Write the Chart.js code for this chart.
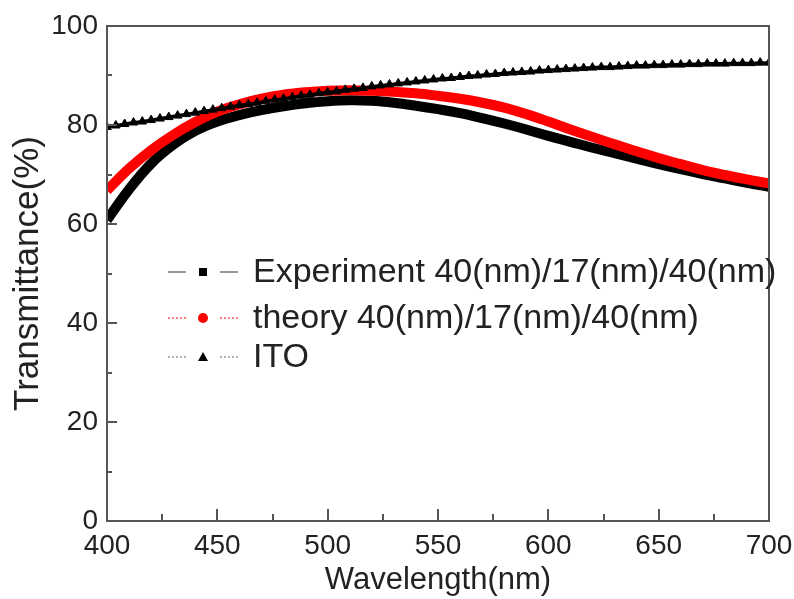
<!DOCTYPE html>
<html>
<head>
<meta charset="utf-8">
<script src="https://cdn.jsdelivr.net/npm/chart.js@4"></script>
<style>
  body { margin: 0; background: #fff; }
  canvas { display: block; }
</style>
</head>
<body>
<canvas id="myChart" width="794" height="599"></canvas>
<script>
// wavelengths (nm) for the two multilayer curves
const wavelength = [400, 410, 420, 430, 440, 450, 460, 470, 480, 490, 500, 510, 520, 530, 540, 550,
  560, 570, 580, 590, 600, 610, 620, 630, 640, 650, 660, 670, 680, 690, 700]

// measured transmittance (%)
const experiment = [60.8, 67.0, 72.2, 76.0, 78.8, 80.7, 82.0, 83.0, 83.8, 84.4, 84.8, 85.0, 84.9, 84.5, 83.9, 83.2,
  82.4, 81.4, 80.3, 79.1, 77.8, 76.6, 75.4, 74.3, 73.2, 72.1, 71.1, 70.1, 69.2, 68.3, 67.5]

// simulated transmittance (%)
const theory = [66.8, 71.2, 74.9, 78.0, 80.6, 82.7, 84.2, 85.3, 86.1, 86.6, 86.9, 87.0, 86.9, 86.7, 86.4, 85.9,
  85.3, 84.5, 83.5, 82.2, 80.7, 79.1, 77.6, 76.1, 74.7, 73.3, 72.1, 70.9, 69.9, 69.0, 68.2]

// ITO reference, sampled every 4 nm
const itoWavelength = [400, 404, 408, 412, 416, 420, 424, 428, 432, 436, 440, 444, 448, 452, 456, 460, 464, 468, 472,
  476, 480, 484, 488, 492, 496, 500, 504, 508, 512, 516, 520, 524, 528, 532, 536, 540, 544, 548, 552, 556, 560,
  564, 568, 572, 576, 580, 584, 588, 592, 596, 600, 604, 608, 612, 616, 620, 624, 628, 632, 636, 640, 644, 648,
  652, 656, 660, 664, 668, 672, 676, 680, 684, 688, 692, 696, 700]
const ito = [79.6, 79.9, 80.2, 80.5, 80.7, 81.0, 81.3, 81.6, 81.9, 82.2, 82.5, 82.8, 83.1, 83.4, 83.7, 84.0, 84.2, 84.5, 84.8,
  85.1, 85.3, 85.6, 85.9, 86.1, 86.4, 86.6, 86.8, 87.1, 87.3, 87.5, 87.8, 88.0, 88.2, 88.4, 88.6, 88.8, 89.0,
  89.2, 89.4, 89.5, 89.7, 89.9, 90.0, 90.2, 90.3, 90.5, 90.6, 90.7, 90.8, 91.0, 91.1, 91.2, 91.3, 91.4, 91.5,
  91.6, 91.7, 91.7, 91.8, 91.9, 92.0, 92.0, 92.1, 92.1, 92.2, 92.2, 92.3, 92.3, 92.4, 92.4, 92.4, 92.5, 92.5,
  92.5, 92.6, 92.6]

const seriesNames = ['Experiment 40(nm)/17(nm)/40(nm)', 'theory 40(nm)/17(nm)/40(nm)', 'ITO']

const FONT = '"Liberation Sans", Arial, sans-serif'
const TEXT = '#222'

function toPoints(xs, ys) {
  return xs.map((x, i) => ({ x: x, y: ys[i] }))
}

// frame + inward ticks (major and minor)
const frameTicks = {
  id: 'frameTicks',
  afterDraw(chart) {
    const ctx = chart.ctx
    const a = chart.chartArea
    const xs = chart.scales.x
    const ys = chart.scales.y
    ctx.save()
    ctx.strokeStyle = '#555'
    ctx.lineWidth = 2
    ctx.strokeRect(a.left, a.top, a.right - a.left, a.bottom - a.top)
    ctx.beginPath()
    for (let v = 400; v <= 700; v += 25) {
      const px = Math.round(xs.getPixelForValue(v))
      const len = v % 50 === 0 ? 12 : 7
      ctx.moveTo(px, a.bottom)
      ctx.lineTo(px, a.bottom - len)
    }
    for (let v = 0; v <= 100; v += 10) {
      const py = Math.round(ys.getPixelForValue(v))
      const len = v % 20 === 0 ? 10 : 5
      ctx.moveTo(a.left, py)
      ctx.lineTo(a.left + len, py)
    }
    ctx.stroke()
    ctx.restore()
  }
}

// legend inside the plot: line - marker - line, then the label
const insideLegend = {
  id: 'insideLegend',
  afterDraw(chart) {
    const ctx = chart.ctx
    const rows = [
      { y: 272, line: '#777', dash: [], marker: 'square', color: '#000' },
      { y: 318, line: '#f55', dash: [2, 2], marker: 'circle', color: '#f00' },
      { y: 357, line: '#999', dash: [2, 2], marker: 'triangle', color: '#000' }
    ]
    ctx.save()
    rows.forEach((r, i) => {
      ctx.strokeStyle = r.line
      ctx.lineWidth = 1.5
      ctx.setLineDash(r.dash)
      ctx.beginPath()
      ctx.moveTo(168, r.y); ctx.lineTo(186, r.y)
      ctx.moveTo(220, r.y); ctx.lineTo(238, r.y)
      ctx.stroke()
      ctx.setLineDash([])
      ctx.fillStyle = r.color
      ctx.beginPath()
      if (r.marker === 'square') {
        ctx.rect(199, r.y - 4, 8, 8)
      } else if (r.marker === 'circle') {
        ctx.arc(203, r.y, 5, 0, Math.PI * 2)
      } else {
        ctx.moveTo(203, r.y - 5); ctx.lineTo(208, r.y + 4); ctx.lineTo(198, r.y + 4); ctx.closePath()
      }
      ctx.fill()
      ctx.fillStyle = TEXT
      ctx.font = '34px ' + FONT
      ctx.textBaseline = 'middle'
      ctx.textAlign = 'left'
      ctx.fillText(seriesNames[i], 253, r.y + 1)
    })
    ctx.restore()
  }
}

var ctx = document.getElementById('myChart').getContext('2d')
var myChart = new Chart(ctx, {
  type: 'line',
  data: {
    datasets: [{
      label: seriesNames[0],
      data: toPoints(wavelength, experiment),
      borderColor: '#000',
      borderWidth: 10,
      pointRadius: 0,
      tension: 0.4,
      order: 3
    }, {
      label: seriesNames[1],
      data: toPoints(wavelength, theory),
      borderColor: '#f00',
      borderWidth: 10,
      pointRadius: 0,
      tension: 0.4,
      order: 2
    }, {
      label: seriesNames[2],
      data: toPoints(itoWavelength, ito),
      borderColor: '#000',
      borderWidth: 3,
      pointStyle: 'triangle',
      pointRadius: 5,
      pointBackgroundColor: '#000',
      pointBorderColor: '#000',
      pointBorderWidth: 1,
      order: 1
    }]
  },
  options: {
    responsive: false,
    animation: false,
    devicePixelRatio: 1,
    layout: { padding: { top: 26, right: 25, left: 0, bottom: 0 } },
    plugins: {
      legend: { display: false },
      tooltip: { enabled: false }
    },
    scales: {
      x: {
        type: 'linear',
        min: 400,
        max: 700,
        grid: { display: false, drawTicks: false },
        border: { display: false },
        ticks: { stepSize: 50, padding: 8, color: TEXT, font: { family: FONT, size: 28 } },
        title: { display: true, text: 'Wavelength(nm)', color: TEXT, font: { family: FONT, size: 31 }, padding: { top: 0, bottom: 0 } },
        afterFit(scale) {
          scale.height = 78
          scale.paddingLeft = 0
          scale.paddingRight = 0
        }
      },
      y: {
        min: 0,
        max: 100,
        grid: { display: false, drawTicks: false },
        border: { display: false },
        ticks: { stepSize: 20, padding: 9, color: TEXT, font: { family: FONT, size: 28 } },
        title: { display: true, text: 'Transmittance(%)', color: TEXT, font: { family: FONT, size: 35 }, padding: { top: 7, bottom: 0 } },
        afterFit(scale) {
          scale.width = 107
          scale.paddingTop = 0
          scale.paddingBottom = 0
        }
      }
    }
  },
  plugins: [frameTicks, insideLegend]
})
</script>
</body>
</html>
